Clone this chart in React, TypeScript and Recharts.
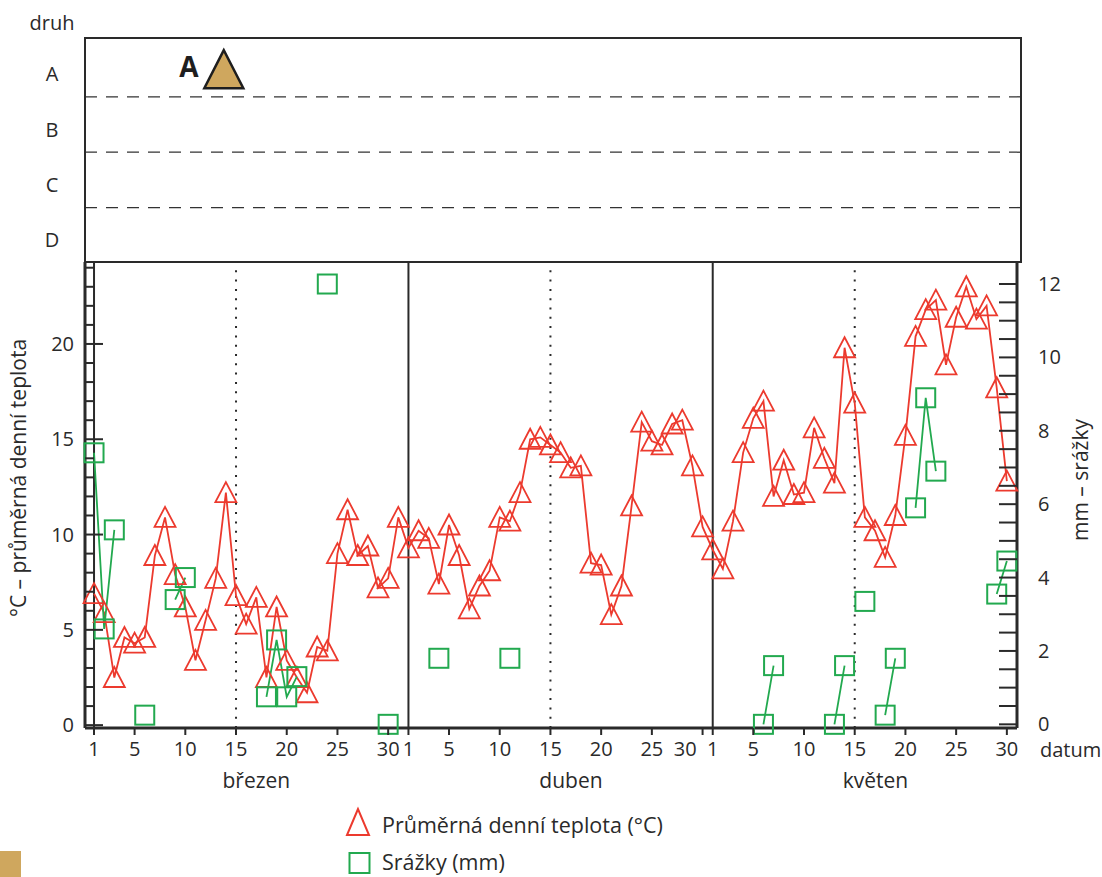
import React from 'react';
import { ComposedChart, ScatterChart, Scatter, Line, XAxis, YAxis, ReferenceLine } from 'recharts';

const W = 1102;
const H = 877;
const FONT = "'Open Sans', 'DejaVu Sans', sans-serif";
const INK = '#2a2a2a';
const RED = '#ec3a2e';
const GREEN = '#22a94f';
const TAN = '#cfa75e';

// osa x: dny od 1. března
const months = ['březen', 'duben', 'květen'];
const monthDays = [31, 30, 31];
const dayTicks = [1, 5, 10, 15, 20, 25, 30];

// průměrná denní teplota (°C), den po dni
const tempMarch = [6.9, 5.9, 2.5, 4.6, 4.3, 4.6, 8.9, 10.9, 7.9, 6.2, 3.4, 5.5, 7.7, 12.2, 6.8, 5.3, 6.7, 2.5, 6.2, 3.4, 2.5, 1.7, 4.1, 3.9, 9.0, 11.3, 8.9, 9.4, 7.2, 7.7, 10.9];
const tempApril = [9.3, 10.2, 9.8, 7.4, 10.5, 8.9, 6.1, 7.3, 8.1, 10.9, 10.7, 12.2, 15.0, 15.1, 14.7, 14.3, 13.5, 13.6, 8.5, 8.4, 5.8, 7.3, 11.5, 15.9, 14.9, 14.7, 15.8, 16.0, 13.6, 10.4];
const tempMay = [9.2, 8.2, 10.7, 14.3, 16.1, 17.0, 12.0, 13.9, 12.1, 12.2, 15.6, 14.0, 12.7, 19.8, 16.9, 10.9, 10.2, 8.8, 11.0, 15.2, 20.4, 21.8, 22.3, 18.9, 21.4, 23.0, 21.3, 22.0, 17.7, 12.8];

// srážky (mm): [den v měsíci, mm]
const rainMarch = [[1, 7.4], [2, 2.6], [3, 5.3], [6, 0.25], [9, 3.4], [10, 4.0], [18, 0.75], [19, 2.3], [20, 0.75], [21, 1.3], [24, 12.0], [30, 0]];
const rainApril = [[4, 1.8], [11, 1.8]];
const rainMay = [[6, 0], [7, 1.6], [13, 0], [14, 1.6], [16, 3.35], [18, 0.25], [19, 1.8], [21, 5.9], [22, 8.9], [23, 6.9], [29, 3.55], [30, 4.45]];

// horní panel: druh
const speciesRows = ['D', 'C', 'B', 'A'];
const speciesMarks = [{ name: 'A', row: 'A', month: 0, day: 13.8 }];

const tempLabels = [0, 5, 10, 15, 20];
const rainLabels = [0, 2, 4, 6, 8, 10, 12];

const temps = [tempMarch, tempApril, tempMay];
const rains = [rainMarch, rainApril, rainMay];

const monthStart: number[] = [];
monthDays.forEach((n, i) => monthStart.push(i === 0 ? 1 : monthStart[i - 1] + monthDays[i - 1]));

const table: any[] = [];
months.forEach((_, m) => {
  for (let d = 1; d <= monthDays[m]; d++) {
    const r = rains[m].find(([day]) => day === d);
    const t = temps[m][d - 1];
    table.push({ day: monthStart[m] + d - 1, temp: t === undefined ? null : t, rain: r ? r[1] : null });
  }
});

const xTicks = months.flatMap((_, m) => dayTicks.filter((d) => d <= monthDays[m]).map((d) => monthStart[m] + d - 1));
const monthMid = monthStart.map((s) => s + 16);
const midLines = monthStart.map((s) => s + 14);
const tempTicks = Array.from({ length: 25 }, (_, i) => i);
const rainTicks = Array.from({ length: 25 }, (_, i) => i / 2);

const speciesData = speciesMarks.map((s) => ({ x: monthStart[s.month] + s.day - 1, y: speciesRows.indexOf(s.row) + 0.5, name: s.name }));

const X_DOMAIN: [number, number] = [0.11, 91.95];

function dayOfMonth(v: number) {
  let m = 0;
  monthStart.forEach((s, i) => { if (v >= s) m = i; });
  return v - monthStart[m] + 1;
}

const txt = { fontFamily: FONT, fill: INK, fontSize: 20 };

function BottomTick(props: any) {
  const { x, y, payload, index } = props;
  // popisek těsně před začátkem dalšího měsíce se odsune doleva
  const crowded = index < xTicks.length - 1 && xTicks[index + 1] - payload.value < 2;
  return (
    <g>
      <line x1={x} x2={x} y1={y} y2={y + 7} stroke={INK} strokeWidth={2} />
      <text x={crowded ? x - 6 : x} y={y + 28} textAnchor={crowded ? 'end' : 'middle'} {...txt}>{dayOfMonth(payload.value)}</text>
    </g>
  );
}

function TopTick(props: any) {
  const { x, y } = props;
  return <line x1={x} x2={x} y1={y} y2={y + 7} stroke={INK} strokeWidth={2} />;
}

function MonthTick(props: any) {
  const { x, y, index } = props;
  return <text x={x} y={y + 30} textAnchor="middle" {...txt} fontSize={21}>{months[index]}</text>;
}

function TempTick(props: any) {
  const { x, y, payload } = props;
  const v = payload.value;
  const major = tempLabels.includes(v);
  return (
    <g>
      <line x1={x} x2={x + (major ? 18 : 9)} y1={y} y2={y} stroke={INK} strokeWidth={2} />
      {major && <text x={x - 11} y={y + 7} textAnchor="end" {...txt}>{v}</text>}
    </g>
  );
}

function RainTick(props: any) {
  const { x, y, payload } = props;
  const v = payload.value;
  return (
    <g>
      <line x1={x} x2={x - 18} y1={y} y2={y} stroke={INK} strokeWidth={2} />
      {rainLabels.includes(v) && <text x={x + 21} y={y + 7} textAnchor="start" {...txt}>{v}</text>}
    </g>
  );
}

function RowTick(props: any) {
  const { x, y, index } = props;
  return <text x={x - 33} y={y + 12} textAnchor="middle" {...txt}>{speciesRows[index]}</text>;
}

function TriangleDot(props: any) {
  const { cx, cy, index } = props;
  if (cx == null || cy == null) return <g key={`t${index}`} />;
  return (
    <polygon key={`t${index}`} points={`${cx},${cy - 10.5} ${cx - 10.5},${cy + 9.5} ${cx + 10.5},${cy + 9.5}`}
      fill="none" stroke={RED} strokeWidth={1.8} />
  );
}

function SquareDot(props: any) {
  const { cx, cy, index } = props;
  if (cx == null || cy == null) return <g key={`s${index}`} />;
  return <rect key={`s${index}`} x={cx - 9.5} y={cy - 9.5} width={19} height={19} fill="none" stroke={GREEN} strokeWidth={2} />;
}

function SpeciesMark(props: any) {
  const { cx, cy, payload } = props;
  return (
    <g>
      <polygon points={`${cx},${cy - 19} ${cx - 19.5},${cy + 19} ${cx + 19.5},${cy + 19}`} fill={TAN} stroke="#1e1e1e" strokeWidth={2.5} />
      <text x={cx - 35} y={cy + 8} textAnchor="middle" fontFamily={FONT} fontWeight="bold" fontSize={28} fill="#1e1e1e">{payload.name}</text>
    </g>
  );
}

export default function App() {
  return (
    <div style={{ position: 'absolute', left: 0, top: 0, width: W, height: H, background: '#fff', overflow: 'hidden' }}>
      <div style={{ position: 'absolute', left: 0, top: 0 }}>
        <ScatterChart width={W} height={H} margin={{ top: 37, right: 80, bottom: 614, left: 25 }}>
          <XAxis type="number" dataKey="x" domain={[0.11, 92.52]} hide allowDataOverflow />
          <YAxis type="number" dataKey="y" domain={[0, 4.08]} ticks={[0.5, 1.5, 2.5, 3.5]} interval={0} width={60}
            axisLine={false} tickLine={false} tickSize={0} tickMargin={0} tick={<RowTick />} allowDataOverflow />
          {[1, 2, 3].map((v) => (
            <ReferenceLine key={v} y={v} stroke="#333" strokeWidth={1.3} strokeDasharray="12 9" />
          ))}
          <Scatter data={speciesData} shape={<SpeciesMark />} isAnimationActive={false} />
        </ScatterChart>
      </div>
      <div style={{ position: 'absolute', left: 84, top: 37, width: 938, height: 226, border: `2px solid ${INK}`, boxSizing: 'border-box' }} />
      <div style={{ position: 'absolute', left: 0, top: 0 }}>
        <ComposedChart width={W} height={H} data={table} margin={{ top: 262, right: 25, bottom: 79, left: 25 }}>
          <XAxis xAxisId="d" dataKey="day" type="number" domain={X_DOMAIN} ticks={xTicks} interval={0} height={30}
            tickSize={0} tickMargin={0} tickLine={false} axisLine={{ stroke: INK, strokeWidth: 3 }} tick={<BottomTick />} />
          <XAxis xAxisId="m" dataKey="day" type="number" domain={X_DOMAIN} ticks={monthMid} interval={0} height={40}
            tickSize={0} tickMargin={0} tickLine={false} axisLine={false} tick={<MonthTick />} allowDataOverflow />
          <XAxis xAxisId="top" orientation="top" dataKey="day" type="number" domain={X_DOMAIN} ticks={xTicks} interval={0} height={0}
            tickSize={0} tickMargin={0} tickLine={false} axisLine={{ stroke: INK, strokeWidth: 3 }} tick={<TopTick />} allowDataOverflow />
          <YAxis yAxisId="t" type="number" domain={[-0.15, 24.3]} ticks={tempTicks} interval={0} width={60}
            tickSize={0} tickMargin={0} tickLine={false} axisLine={{ stroke: INK, strokeWidth: 3 }} tick={<TempTick />} />
          <YAxis yAxisId="p" orientation="right" type="number" domain={[-0.1, 12.6]} ticks={rainTicks} interval={0} width={60}
            tickSize={0} tickMargin={0} tickLine={false} axisLine={{ stroke: INK, strokeWidth: 3 }} tick={<RainTick />} />
          <ReferenceLine xAxisId="d" yAxisId="t" x={1} stroke={INK} strokeWidth={2} />
          {monthStart.slice(1).map((s) => (
            <ReferenceLine key={`m${s}`} xAxisId="d" yAxisId="t" x={s} stroke={INK} strokeWidth={2} />
          ))}
          {midLines.map((s) => (
            <ReferenceLine key={`h${s}`} xAxisId="d" yAxisId="t" x={s} stroke={INK} strokeWidth={2} strokeDasharray="2 7.3" />
          ))}
          <Line xAxisId="d" yAxisId="t" dataKey="temp" stroke={RED} strokeWidth={1.8} dot={TriangleDot}
            activeDot={false} isAnimationActive={false} />
          <Line xAxisId="d" yAxisId="p" dataKey="rain" stroke={GREEN} strokeWidth={1.8} dot={SquareDot}
            activeDot={false} connectNulls={false} isAnimationActive={false} />
        </ComposedChart>
      </div>
      <svg width={W} height={H} style={{ position: 'absolute', left: 0, top: 0, pointerEvents: 'none' }}>
        <text x={52} y={30} textAnchor="middle" {...txt}>druh</text>
        <text x={26} y={478} textAnchor="middle" transform="rotate(-90 26 478)" {...txt} fontSize={21}>°C – průměrná denní teplota</text>
        <text x={1088} y={480} textAnchor="middle" transform="rotate(-90 1088 480)" {...txt} fontSize={21}>mm – srážky</text>
        <text x={1040} y={757} {...txt}>datum</text>
        <polygon points="358,809 347,835 369,835" fill="none" stroke={RED} strokeWidth={2} />
        <text x={382} y={833} {...txt} fontSize={21.5}>Průměrná denní teplota (°C)</text>
        <rect x={349.5} y={853} width={20} height={20} fill="none" stroke={GREEN} strokeWidth={2} />
        <text x={382} y={870} {...txt} fontSize={21.5}>Srážky (mm)</text>
        <rect x={0} y={851} width={21} height={26} fill={TAN} />
      </svg>
    </div>
  );
}
